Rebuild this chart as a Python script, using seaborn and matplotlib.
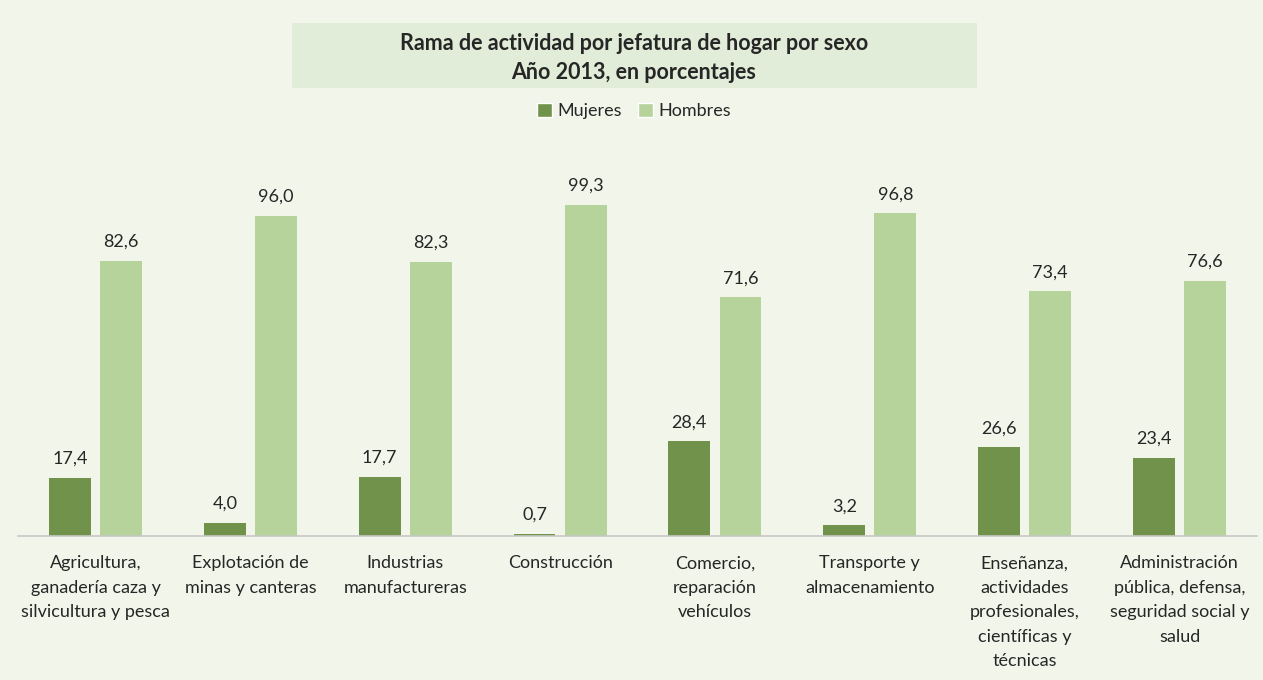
import matplotlib
matplotlib.use("Agg")
import matplotlib.pyplot as plt
from matplotlib.patches import Rectangle, Patch
import seaborn as sns
import pandas as pd

categorias = [
    "Agricultura,\nganadería caza y\nsilvicultura y pesca",
    "Explotación de\nminas y canteras",
    "Industrias\nmanufactureras",
    "Construcción",
    "Comercio,\nreparación\nvehículos",
    "Transporte y\nalmacenamiento",
    "Enseñanza,\nactividades\nprofesionales,\ncientíficas y\ntécnicas",
    "Administración\npública, defensa,\nseguridad social y\nsalud",
]
mujeres = [17.4, 4.0, 17.7, 0.7, 28.4, 3.2, 26.6, 23.4]
hombres = [82.6, 96.0, 82.3, 99.3, 71.6, 96.8, 73.4, 76.6]
series = ["Mujeres", "Hombres"]
titulo = "Rama de actividad por jefatura de hogar por sexo\nAño 2013, en porcentajes"

BG = "#F2F6EA"
C_DARK = "#71924A"
C_LIGHT = "#B6D39B"
TXT = "#262626"

sns.set_theme(style="white")
plt.rcParams["font.family"] = ["Lato", "DejaVu Sans"]

df = pd.DataFrame({
    "cat": categorias * 2,
    "sexo": [series[0]] * len(categorias) + [series[1]] * len(categorias),
    "valor": mujeres + hombres,
})

W, H = 1263, 680
fig = plt.figure(figsize=(W / 100, H / 100), dpi=100, facecolor=BG)
ax = fig.add_axes([18 / W, (H - 536) / H, (1257 - 18) / W, (536 - 150) / H])
ax.set_facecolor(BG)

sns.barplot(data=df, x="cat", y="valor", hue="sexo", hue_order=series,
            palette=[C_DARK, C_LIGHT], width=0.66, gap=0.18, ax=ax,
            legend=False, saturation=1, edgecolor="none")

ax.set_ylim(0, 386 / 3.333)
ax.set_xlim(-0.5, len(categorias) - 0.5)
for c in ax.containers:
    ax.bar_label(c, labels=[f"{v:.1f}".replace(".", ",") for v in c.datavalues],
                 padding=8, fontsize=13, color=TXT)

ax.set_xlabel("")
ax.set_ylabel("")
ax.set_yticks([])
ax.tick_params(axis="x", length=0, pad=14, labelsize=13, labelcolor=TXT)
for lbl in ax.get_xticklabels():
    lbl.set_linespacing(1.65)
for s in ["top", "left", "right"]:
    ax.spines[s].set_visible(False)
ax.spines["bottom"].set_color("#C8C8C8")
ax.spines["bottom"].set_linewidth(1.2)

# title box
fig.patches.append(Rectangle((292 / W, 1 - 88 / H), (977 - 292) / W, (88 - 23) / H,
                             transform=fig.transFigure, facecolor="#E2EDD9",
                             edgecolor="none", zorder=0))
fig.text(634 / W, 1 - 58 / H, titulo, ha="center", va="center", fontsize=15.5,
         fontweight="bold", color=TXT, linespacing=1.45)

# legend
handles = [Patch(facecolor=C_DARK, label=series[0]), Patch(facecolor=C_LIGHT, label=series[1])]
fig.legend(handles=handles, loc="center", bbox_to_anchor=(634 / W, 1 - 111 / H), ncol=2,
           frameon=False, fontsize=13, handlelength=0.8, handleheight=0.8,
           handletextpad=0.3, columnspacing=0.9, labelcolor=TXT)

fig.savefig("out.png", dpi=100, facecolor=BG)
